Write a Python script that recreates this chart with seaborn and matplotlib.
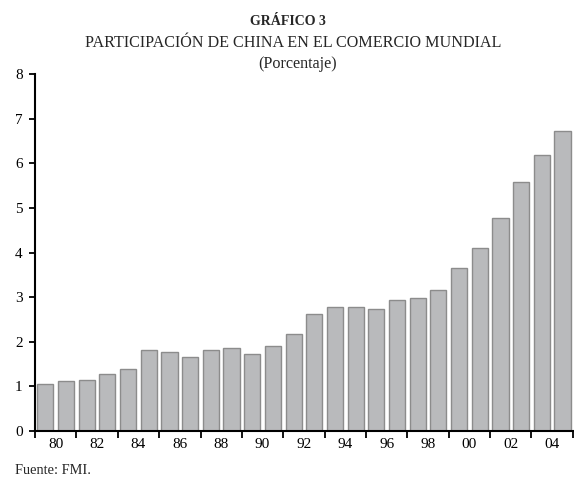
import numpy as np
import pandas as pd
import matplotlib
matplotlib.use("Agg")
import matplotlib.pyplot as plt
import seaborn as sns

# Data
years = list(range(1980, 2006))
share = [1.05, 1.11, 1.15, 1.27, 1.39, 1.82, 1.78, 1.66, 1.82, 1.85,
         1.73, 1.91, 2.18, 2.62, 2.77, 2.77, 2.74, 2.93, 2.99, 3.15,
         3.66, 4.09, 4.77, 5.57, 6.19, 6.72]
tick_labels = ["80", "82", "84", "86", "88", "90", "92",
               "94", "96", "98", "00", "02", "04"]

df = pd.DataFrame({"year": [str(y) for y in years], "share": share})

sns.set_theme(style="white")
plt.rcParams['font.family'] = ['Liberation Serif', 'DejaVu Serif']

fig = plt.figure(figsize=(5.74, 4.79), dpi=100)
ax = fig.add_axes([0.061, 0.1002, 0.937, 0.7453])

sns.barplot(data=df, x="year", y="share", color="#b9babc", saturation=1,
            width=0.78, edgecolor="#8c8c8c", linewidth=1, ax=ax)

ax.set_xlim(-0.5, len(years) - 0.5)
ax.set_ylim(0, 8)
ax.set_yticks(range(0, 9))
ax.set_yticklabels([str(i) for i in range(0, 9)], fontsize=11)

# labels centred between bar pairs, tick marks at pair boundaries
ax.set_xticks(np.arange(0.5, len(years), 2), tick_labels, fontsize=11)
ax.set_xticks(np.arange(-0.5, len(years), 2), minor=True)
ax.tick_params(axis="x", which="major", length=0, pad=5, colors="black")
ax.tick_params(axis="x", which="minor", length=5, width=1.3, direction="out",
               bottom=True, color="black")
ax.tick_params(axis="y", which="major", length=4, width=1.3, direction="out",
               left=True, pad=5, colors="black")
ax.set_xlabel("")
ax.set_ylabel("")

sns.despine(ax=ax)
for s in ["left", "bottom"]:
    ax.spines[s].set_color("black")
    ax.spines[s].set_linewidth(1.5)

fig.text(0.502, 0.956, "GRÁFICO 3", ha="center", va="center",
         fontsize=10, fontweight="bold")
fig.text(0.51, 0.911, "PARTICIPACIÓN DE CHINA EN EL COMERCIO MUNDIAL",
         ha="center", va="center", fontsize=11.6)
fig.text(0.518, 0.866, "(Porcentaje)", ha="center", va="center", fontsize=11.6)
fig.text(0.026, 0.018, "Fuente: FMI.", ha="left", va="center", fontsize=10.4)

fig.savefig("out.png", dpi=100)
